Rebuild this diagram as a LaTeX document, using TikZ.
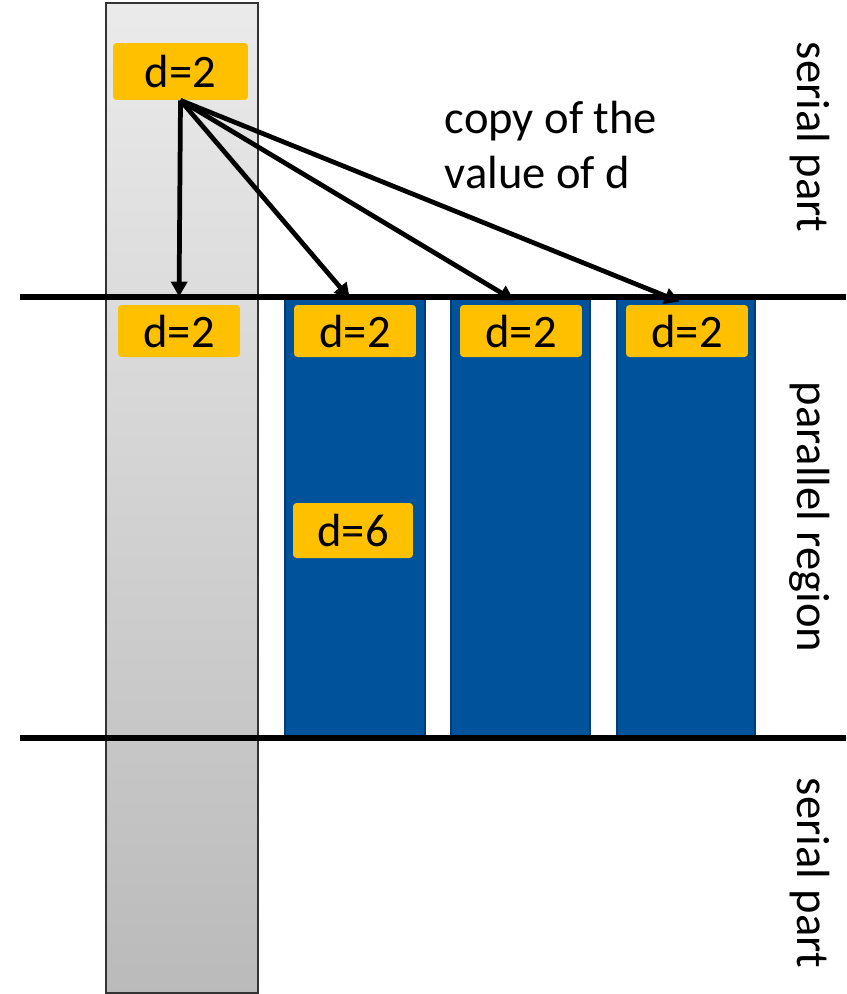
\documentclass[tikz,border=0pt]{standalone}
\usepackage{fontspec}
\setmainfont{Carlito}
\usetikzlibrary{arrows.meta}
\definecolor{valorange}{RGB}{255,192,0}
\definecolor{thrblue}{RGB}{0,82,155}
\definecolor{thrborder}{RGB}{0,60,120}

\begin{document}
\begin{tikzpicture}[x=0.02cm, y=-0.02cm,
  valbox/.style={fill=valorange, rounded corners=2pt, inner sep=0pt, minimum width=2.44cm, minimum height=1.04cm, font=\fontsize{26.5}{31.5}\selectfont},
  thread/.style={fill=thrblue, draw=thrborder, line width=1.2pt},
  region/.style={line width=3pt},
  copyarrow/.style={line width=2.7pt, -{Triangle[length=0.3cm, width=0.32cm]}, shorten >=0.16cm},
  sidelabel/.style={rotate=-90, font=\fontsize{26.5}{31.5}\selectfont}]
\useasboundingbox (0,0) rectangle (846,994);
% master thread
\shade[top color=black!8, bottom color=black!27, draw=black!80, line width=0.8pt] (106,3) rectangle (258,993);
% team threads
\filldraw[thread] (285,298) rectangle (425,736);
\filldraw[thread] (451,298) rectangle (590,736);
\filldraw[thread] (617,298) rectangle (755,736);
% region borders
\draw[region] (20,297) -- (846,297);
\draw[region] (20,738) -- (846,738);
% values of d
\node[valbox, minimum width=2.7cm, minimum height=1.14cm] (src) at (180.5,71.5) {d=2};
\node[valbox] (cp0) at (179,331) {d=2};
\node[valbox] (cp1) at (355,331) {d=2};
\node[valbox] (cp2) at (521,331) {d=2};
\node[valbox] (cp3) at (687,331) {d=2};
\node[valbox, minimum width=2.4cm, minimum height=1.1cm] (priv) at (353,530.5) {d=6};
\foreach \c in {cp0,cp1,cp2,cp3}
  \draw[copyarrow] (src.south) -- (\c.north);
\node[align=left, inner sep=0pt, font=\fontsize{26.5}{31.5}\selectfont] (note) at (551,145) {copy of the\\value of d};
% phases
\node[sidelabel] (top) at (810,137) {serial part};
\node[sidelabel] (par) at (810,517) {parallel region};
\node[sidelabel] (bot) at (810,873) {serial part};
\end{tikzpicture}
\end{document}
